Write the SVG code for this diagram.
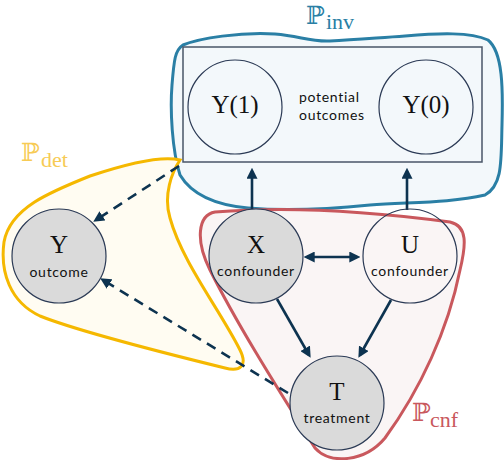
<svg xmlns="http://www.w3.org/2000/svg" width="504" height="460" viewBox="0 0 504 460">
<style>
.blob{stroke-width:3}
.node{stroke:#2b3a55;stroke-width:1.2}
.gray{fill:#dadada}
.clear{fill:none}
.big{font-family:"Liberation Serif","DejaVu Serif",serif;font-size:25px;fill:#111;text-anchor:middle}
.small{font-family:Lato,"Open Sans",sans-serif;font-size:14px;fill:#111;text-anchor:middle;letter-spacing:0.7px}
.edge{stroke:#0d3350;stroke-width:2.6;fill:none}
.dash{stroke-dasharray:10 7}
.bb{font-family:"DejaVu Serif",serif;font-size:25px}
.sub{font-family:"Liberation Serif",serif;font-size:22px}
</style>
<defs>
<marker id="ah" viewBox="0 0 10 10" refX="7" refY="5" markerWidth="11" markerHeight="11" markerUnits="userSpaceOnUse" orient="auto-start-reverse">
<path d="M0,0 L10,5 L0,10 z" fill="#0d3350"/>
</marker>
</defs>
<g id="region-inv">
<path class="blob" fill="#f3f8fb" stroke="#2a7fa5" d="M 183,45 C 200,38 240,32 275,34 C 300,36 310,42 330,41 C 355,40 375,38 405,36 C 440,33 470,32 488,40 C 503,52 503,90 502,125 C 501,160 503,185 485,195 C 450,203 410,202 370,205 C 330,209 285,211 248,208 C 215,205 192,195 180,175 C 172,150 170,110 172,85 C 174,60 175,50 183,45 Z"/>
<text x="306" y="24" fill="#2a7fa5" class="bb">ℙ</text>
<text x="326" y="29" fill="#2a7fa5" class="sub">inv</text>
</g>
<g id="region-det">
<path class="blob" fill="#fffcf2" stroke="#f5b800" d="M 180,160 C 172,172 163,195 170,218 C 182,262 220,310 240,350 C 248,366 240,372 225,368 C 160,352 80,332 40,316 C 10,302 0,272 4,242 C 10,208 50,192 90,176 C 120,166 160,155 180,160 Z"/>
<text x="21" y="161" fill="#f7cb55" class="bb">ℙ</text>
<text x="41" y="167" fill="#f7cb55" class="sub">det</text>
</g>
<g id="region-cnf">
<path class="blob" fill="#faf5f5" stroke="#c9585d" d="M 215,212 C 300,205 390,214 450,222 C 468,226 466,245 460,270 C 448,330 420,390 385,438 C 365,462 330,465 315,448 C 285,400 240,330 210,270 C 195,240 198,215 215,212 Z"/>
<text x="412" y="421" fill="#c9585d" class="bb">ℙ</text>
<text x="430" y="427" fill="#c9585d" class="sub">cnf</text>
</g>
<g id="potential-outcomes">
<rect x="183" y="47" width="299" height="115" fill="none" stroke="#4a5568" stroke-width="1.5"/>
<text x="299" y="102" class="small" text-anchor="start" style="text-anchor:start">potential</text>
<text x="299" y="120" class="small" style="text-anchor:start">outcomes</text>
</g>
<g id="node-Y1">
<circle cx="235" cy="107" r="47" class="node clear"/>
<text x="235" y="113" class="big">Y(1)</text>
</g>
<g id="node-Y0">
<circle cx="426" cy="107" r="47" class="node clear"/>
<text x="426" y="113" class="big">Y(0)</text>
</g>
<g id="connectors">
<line class="edge" x1="252" y1="210" x2="252" y2="171" marker-end="url(#ah)"/>
<line class="edge" x1="407" y1="210" x2="407" y2="171" marker-end="url(#ah)"/>
<line class="edge dash" x1="179" y1="166" x2="96" y2="220" marker-end="url(#ah)"/>
<line class="edge dash" x1="288" y1="393" x2="103" y2="280" marker-end="url(#ah)"/>
<line class="edge" x1="307" y1="257" x2="357" y2="257" marker-start="url(#ah)" marker-end="url(#ah)"/>
<line class="edge" x1="277" y1="299" x2="309" y2="355" marker-end="url(#ah)"/>
<line class="edge" x1="391" y1="300" x2="360" y2="355" marker-end="url(#ah)"/>
</g>
<g id="node-Y">
<circle cx="59" cy="256" r="47" class="node gray"/>
<text x="59" y="253" class="big">Y</text>
<text x="59" y="277" class="small">outcome</text>
</g>
<g id="node-X">
<circle cx="256" cy="256" r="47" class="node gray"/>
<text x="256" y="253" class="big">X</text>
<text x="256" y="276" class="small">confounder</text>
</g>
<g id="node-U">
<circle cx="410" cy="256" r="47" class="node clear"/>
<text x="410" y="253" class="big">U</text>
<text x="410" y="276" class="small">confounder</text>
</g>
<g id="node-T">
<circle cx="337" cy="403" r="47" class="node gray"/>
<text x="337" y="400" class="big">T</text>
<text x="337" y="423" class="small">treatment</text>
</g>
</svg>
